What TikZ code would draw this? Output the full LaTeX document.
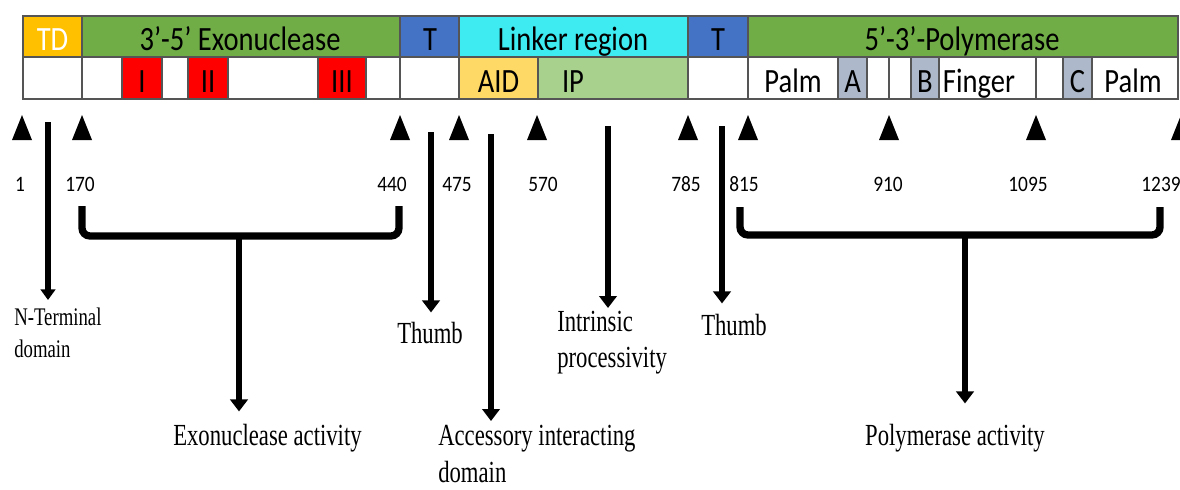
\documentclass[tikz,border=0pt]{standalone}
\usepackage{fontspec}
\setmainfont{Liberation Serif}
\newfontfamily\cellfont[FakeStretch=0.84]{Carlito}
\newfontfamily\numfont[FakeStretch=0.88]{Carlito}
\newfontfamily\labfont[FakeStretch=0.74]{Liberation Serif}
\usepackage{tikz}
\usetikzlibrary{arrows.meta, calc}
\usepackage{xcolor}
\definecolor{tdorange}{HTML}{FFC000}
\definecolor{exogreen}{HTML}{70AD47}
\definecolor{thumbblue}{HTML}{4472C4}
\definecolor{linkcyan}{HTML}{3DEBF1}
\definecolor{motifred}{HTML}{FF0000}
\definecolor{aidyellow}{HTML}{FFD966}
\definecolor{ipgreen}{HTML}{A9D18E}
\definecolor{motifgray}{HTML}{ADB9CA}
\definecolor{gridgray}{HTML}{555555}

\begin{document}
\begin{tikzpicture}[x=0.75pt, y=-0.75pt,
    cell/.style={draw=gridgray, line width=0.8pt},
    celltext/.style={font=\cellfont\fontsize{25.5}{28}\selectfont, inner sep=0pt, anchor=base},
    num/.style={font=\numfont\fontsize{16.5}{18}\selectfont, inner sep=0pt, anchor=base},
    lab/.style={font=\labfont\fontsize{23}{27}\selectfont, inner sep=0pt, align=left},
    arr/.style={line width=4.5pt, -{Triangle[width=13pt,length=9pt]}},
    brk/.style={line width=5.5pt, rounded corners=6pt}]
    \clip (0,0) rectangle (1180,489);
    \fill[white] (0,0) rectangle (1180,489);
    \foreach \xa/\xb/\col in {23/82/tdorange, 82/400/exogreen, 400/459/thumbblue,
        459/688/linkcyan, 688/748/thumbblue, 748/1178/exogreen}
      \filldraw[cell, fill=\col] (\xa,16) rectangle (\xb,57);
    \foreach \xa/\xb/\col in {23/82/white, 82/122/white, 122/162/motifred, 162/188/white,
        188/228/motifred, 228/318/white, 318/366/motifred, 366/400/white, 400/459/white,
        459/538/aidyellow, 538/688/ipgreen, 688/748/white, 748/838/white, 838/867/motifgray,
        867/889/white, 889/911/white, 911/939/motifgray, 939/1036/white, 1036/1063/white,
        1063/1092/motifgray, 1092/1178/white}
      \filldraw[cell, fill=\col] (\xa,57) rectangle (\xb,99);
    \node[celltext, text=white] (td) at (52.5,50) {TD};
    \node[celltext] (exo) at (240,50) {3’-5’ Exonuclease};
    \node[celltext] (thA) at (430,50) {T};
    \node[celltext] (link) at (573,50) {Linker region};
    \node[celltext] (thB) at (718,50) {T};
    \node[celltext] (pol) at (962,50) {5’-3’-Polymerase};
    \node[celltext] (m1) at (142,92) {I};
    \node[celltext] (m2) at (208,92) {II};
    \node[celltext] (m3) at (342,92) {III};
    \node[celltext] (aid) at (498.5,92) {AID};
    \node[celltext] (ip) at (573,92) {IP};
    \node[celltext] (palmA) at (793,92) {Palm};
    \node[celltext] (ma) at (852.5,92) {A};
    \node[celltext] (mb) at (925,92) {B};
    \node[celltext] (fing) at (979,92) {Finger};
    \node[celltext] (mc) at (1077.5,92) {C};
    \node[celltext] (palmB) at (1133,92) {Palm};
    \foreach \tx/\nx/\n in {22/20/1, 82/80/170, 400/392/440, 459/457/475, 537/543/570,
        688/686/785, 748/744/815, 889/888/910, 1036/1028/1095, 1181/1161/1239} {
      \fill (\tx-10,140) -- (\tx+10,140) -- (\tx,115) -- cycle;
      \node[num] (p\n) at (\nx,191) {\n};
    }
    \coordinate (ntTop) at (48,122);
    \node[lab, font=\labfont\fontsize{19}{24}\selectfont, anchor=north west] (nterm) at (14,308) {N-Terminal\\domain};
    \draw[arr, line width=4pt, -{Triangle[width=11pt,length=8pt]}, shorten >=6pt] (ntTop) -- (ntTop |- nterm.north);
    \coordinate (exoL) at (82,206);
    \coordinate (exoR) at (399,206);
    \coordinate (exoM) at (239,236);
    \draw[brk] (exoL) |- (exoM) -| (exoR);
    \node[lab, anchor=base west] (exoact) at (173,445) {Exonuclease activity};
    \draw[arr, shorten >=9pt] (exoM) -- (exoM |- exoact.north);
    \coordinate (thATop) at (431,132);
    \node[lab, anchor=base west] (thumbA) at (397,343) {Thumb};
    \draw[arr, shorten >=6.75pt] (thATop) -- (thATop |- thumbA.north);
    \coordinate (aidTop) at (491,134);
    \node[lab, font=\labfont\fontsize{23}{28}\selectfont, anchor=north west] (aidlab) at (438,425) {Accessory interacting\\domain};
    \draw[arr, shorten >=3pt] (aidTop) -- (aidTop |- aidlab.north);
    \coordinate (ipTop) at (608,126);
    \node[lab, anchor=north west] (iplab) at (557,311) {Intrinsic\\processivity};
    \draw[arr, shorten >=2.25pt] (ipTop) -- (ipTop |- iplab.north);
    \coordinate (thBTop) at (722,126);
    \node[lab, anchor=base west] (thumbB) at (701,335) {Thumb};
    \draw[arr, shorten >=7.5pt] (thBTop) -- (thBTop |- thumbB.north);
    \coordinate (polL) at (740,207);
    \coordinate (polR) at (1160,207);
    \coordinate (polM) at (965,235);
    \draw[brk] (polL) |- (polM) -| (polR);
    \node[lab, anchor=base] (polact) at (955,445) {Polymerase activity};
    \draw[arr, shorten >=15pt] (polM) -- (polM |- polact.north);
\end{tikzpicture}
\end{document}
